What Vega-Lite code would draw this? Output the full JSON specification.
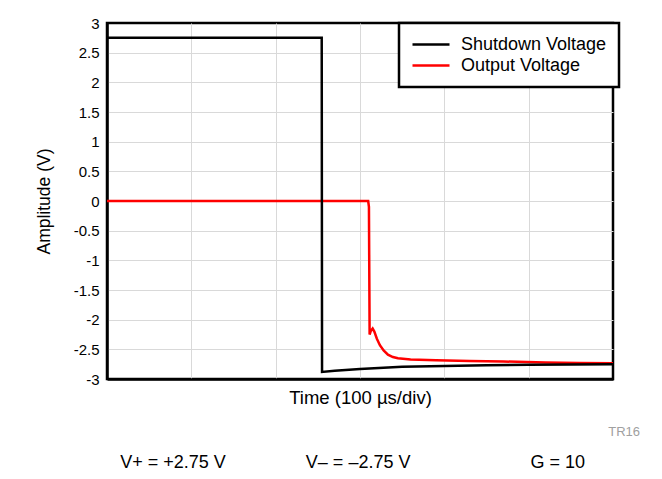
{
  "$schema": "https://vega.github.io/schema/vega-lite/v6.json",
  "width": 506,
  "height": 356,
  "autosize": {"type": "none"},
  "padding": {"left": 107, "top": 23, "right": 49, "bottom": 100},
  "background": "white",
  "config": {
    "font": "Liberation Sans",
    "view": {"stroke": "black", "strokeWidth": 2.5},
    "legend": {"strokeWidth": 2.5},
    "axis": {"grid": true, "gridColor": "#d9d9d9", "gridWidth": 1, "domain": true, "domainColor": "black", "domainWidth": 2.5, "ticks": false, "labelFont": "Liberation Sans", "titleFont": "Liberation Sans", "titleFontWeight": "normal", "labelColor": "black", "titleColor": "black"}
  },
  "title": {
    "text": "TR16",
    "subtitle": "V+ = +2.75 V\u00a0\u00a0\u00a0\u00a0\u00a0\u00a0\u00a0\u00a0\u00a0\u00a0\u00a0\u00a0\u00a0\u00a0\u00a0\u00a0V– = –2.75 V\u00a0\u00a0\u00a0\u00a0\u00a0\u00a0\u00a0\u00a0\u00a0\u00a0\u00a0\u00a0\u00a0\u00a0\u00a0\u00a0\u00a0\u00a0\u00a0\u00a0\u00a0\u00a0\u00a0\u00a0G = 10\u00a0\u00a0\u00a0\u00a0\u00a0\u00a0\u00a0\u00a0\u00a0\u00a0\u00a0\u200b",
    "orient": "bottom",
    "anchor": "end",
    "frame": "group",
    "dx": 27,
    "offset": 19,
    "font": "Liberation Sans",
    "fontSize": 13,
    "fontWeight": "normal",
    "color": "#a0a0a0",
    "subtitleFont": "Liberation Sans",
    "subtitleFontSize": 18,
    "subtitleColor": "black",
    "subtitlePadding": 15
  },
  "data": {
    "values": [
      {"series": "Output Voltage", "t": 0, "v": 0},
      {"series": "Output Voltage", "t": 1.5, "v": 0},
      {"series": "Output Voltage", "t": 2.9, "v": 0},
      {"series": "Output Voltage", "t": 3.097, "v": 0},
      {"series": "Output Voltage", "t": 3.106, "v": -0.1},
      {"series": "Output Voltage", "t": 3.114, "v": -2.25},
      {"series": "Output Voltage", "t": 3.128, "v": -2.19},
      {"series": "Output Voltage", "t": 3.15, "v": -2.15},
      {"series": "Output Voltage", "t": 3.17, "v": -2.2},
      {"series": "Output Voltage", "t": 3.2, "v": -2.32},
      {"series": "Output Voltage", "t": 3.236, "v": -2.43},
      {"series": "Output Voltage", "t": 3.28, "v": -2.52},
      {"series": "Output Voltage", "t": 3.331, "v": -2.59},
      {"series": "Output Voltage", "t": 3.39, "v": -2.63},
      {"series": "Output Voltage", "t": 3.45, "v": -2.65},
      {"series": "Output Voltage", "t": 3.6, "v": -2.67},
      {"series": "Output Voltage", "t": 3.9, "v": -2.685},
      {"series": "Output Voltage", "t": 4.3, "v": -2.695},
      {"series": "Output Voltage", "t": 4.7, "v": -2.705},
      {"series": "Output Voltage", "t": 5.2, "v": -2.72},
      {"series": "Output Voltage", "t": 5.6, "v": -2.73},
      {"series": "Output Voltage", "t": 6, "v": -2.735},
      {"series": "Shutdown Voltage", "t": 0, "v": 2.75},
      {"series": "Shutdown Voltage", "t": 2.546, "v": 2.75},
      {"series": "Shutdown Voltage", "t": 2.55, "v": -2.88},
      {"series": "Shutdown Voltage", "t": 2.7, "v": -2.86},
      {"series": "Shutdown Voltage", "t": 3.0, "v": -2.83},
      {"series": "Shutdown Voltage", "t": 3.5, "v": -2.795},
      {"series": "Shutdown Voltage", "t": 4.0, "v": -2.78},
      {"series": "Shutdown Voltage", "t": 4.5, "v": -2.77},
      {"series": "Shutdown Voltage", "t": 5.0, "v": -2.76},
      {"series": "Shutdown Voltage", "t": 5.5, "v": -2.755},
      {"series": "Shutdown Voltage", "t": 6, "v": -2.75}
    ]
  },
  "mark": {"type": "line", "strokeWidth": 2.5, "clip": true},
  "encoding": {
    "x": {
      "field": "t", "type": "quantitative",
      "scale": {"domain": [0, 6], "nice": false},
      "axis": {"values": [1, 2, 3, 4, 5], "labels": false, "title": "Time (100 µs/div)", "titleFontSize": 18.5, "titlePadding": 9}
    },
    "y": {
      "field": "v", "type": "quantitative",
      "scale": {"domain": [-3, 3], "nice": false},
      "axis": {
        "values": [-3, -2.5, -2, -1.5, -1, -0.5, 0, 0.5, 1, 1.5, 2, 2.5, 3],
        "gridColor": {"condition": {"test": "abs(datum.value) == 3", "value": "transparent"}, "value": "#d9d9d9"},
        "labelExpr": "'' + datum.value", "labelFontSize": 15, "labelPadding": 8, "title": "Amplitude (V)", "titleFontSize": 17.5, "titlePadding": 20}
    },
    "color": {
      "field": "series", "type": "nominal",
      "scale": {"domain": ["Shutdown Voltage", "Output Voltage"], "range": ["black", "#ff0000"]},
      "legend": {
        "title": null, "orient": "none", "legendX": 292, "legendY": 0,
        "fillColor": "white", "strokeColor": "black",
        "padding": 12, "symbolType": "stroke", "symbolSize": 1369, "symbolStrokeWidth": 2.5,
        "clipHeight": 19, "rowPadding": 2,
        "labelFontSize": 18, "labelFont": "Liberation Sans", "labelColor": "black", "labelOffset": 10, "labelLimit": 300
      }
    }
  }
}
